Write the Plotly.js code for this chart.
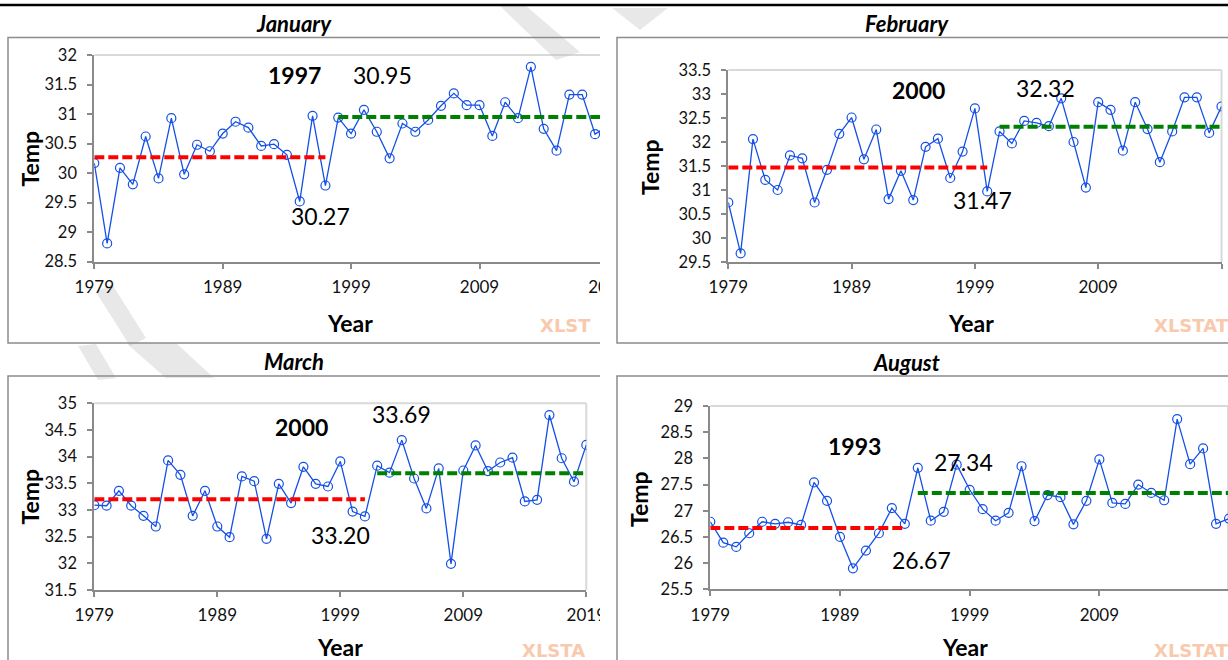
<!DOCTYPE html>
<html><head><meta charset="utf-8">
<script src="https://cdn.plot.ly/plotly-3.0.1.min.js"></script>
<style>html,body{margin:0;padding:0;background:#fff;} #chart{width:1228px;height:660px;}</style>
</head><body><div id="chart"></div>
<script>
// ---------------- data ----------------
const years = [1979,1980,1981,1982,1983,1984,1985,1986,1987,1988,1989,1990,1991,1992,1993,1994,1995,1996,1997,1998,1999,2000,2001,2002,2003,2004,2005,2006,2007,2008,2009,2010,2011,2012,2013,2014,2015,2016,2017,2018,2019];
const janTemp = [30.17,28.81,30.09,29.81,30.62,29.91,30.93,29.98,30.48,30.37,30.67,30.87,30.77,30.46,30.49,30.31,29.52,30.97,29.79,30.94,30.67,31.07,30.70,30.25,30.84,30.70,30.90,31.14,31.35,31.15,31.15,30.63,31.20,30.93,31.80,30.75,30.38,31.33,31.33,30.66,30.80];
const febTemp = [30.74,29.68,32.06,31.21,31.00,31.72,31.66,30.74,31.42,32.17,32.51,31.64,32.26,30.81,31.40,30.79,31.90,32.07,31.25,31.80,32.70,30.97,32.22,31.97,32.44,32.40,32.33,32.91,32.00,31.05,32.83,32.67,31.82,32.83,32.27,31.58,32.22,32.93,32.93,32.19,32.74];
const marTemp = [33.09,33.08,33.36,33.08,32.89,32.69,33.93,33.66,32.89,33.36,32.69,32.49,33.63,33.54,32.46,33.49,33.13,33.81,33.49,33.44,33.91,32.97,32.88,33.83,33.70,34.31,33.59,33.03,33.78,31.99,33.74,34.21,33.73,33.89,33.98,33.16,33.19,34.78,33.97,33.53,34.22];
const augTemp = [26.79,26.39,26.31,26.57,26.79,26.75,26.78,26.73,27.54,27.19,26.50,25.90,26.24,26.57,27.05,26.75,27.82,26.81,26.98,27.88,27.40,27.03,26.81,26.96,27.85,26.80,27.30,27.26,26.74,27.19,27.98,27.15,27.13,27.50,27.34,27.20,28.75,27.89,28.19,26.75,26.85];

const panelTitles = ['January','February','March','August'];
const changeYearLabels = ['1997','2000','2000','1993'];
const meanBefore = [30.27, 31.47, 33.20, 26.67];
const meanAfter = [30.95, 32.32, 33.69, 27.34];
const meanBeforeLabels = ['30.27','31.47','33.20','26.67'];
const meanAfterLabels = ['30.95','32.32','33.69','27.34'];
const beforeYears = [[1979,1997],[1979,2000],[1979,2001],[1979,1994]];
const afterYears = [[1998,2019],[2001,2019],[2002,2019],[1995,2019]];
const yRanges = [[28.5,32],[29.5,33.5],[31.5,35],[25.5,29]];
const xTickVals = [1979,1989,1999,2009,2019];
const xTickText = ['1979','1989','1999','2009','2019'];
const xAxisTitle = 'Year';
const yAxisTitle = 'Temp';
const watermarkTexts = ['XLST','XLSTAT','XLSTA','XLSTAT'];
const temps = [janTemp, febTemp, marTemp, augTemp];

// ---------------- layout geometry (pixels) ----------------
const W = 1228, H = 660;
const geo = [
  {x0:94.3, x1:607.9, xmax:2019, yTop:55, yBot:261.7,
   title:[293.8,23], cy:[294,75.5], after:[382,75.5], before:[320,216], xt:[350,323], yt:[29.5,159], xl:[538,325]},
  {x0:728.3, x1:1221.5, xmax:2019, yTop:70, yBot:262,
   title:[906.5,23], cy:[918,89.5], after:[1045,88], before:[982,200], xt:[971,323], yt:[650,167], xl:[1152,325]},
  {x0:94.3, x1:586.3, xmax:2019, yTop:403.3, yBot:590,
   title:[293.8,361.7], cy:[301,426.5], after:[401,414], before:[340.5,535], xt:[340,646.7], yt:[29.5,497], xl:[520,650]},
  {x0:710.3, x1:1228, xmax:2018.92, yTop:406, yBot:589.3,
   title:[906.5,362.7], cy:[854,445.5], after:[963,461.5], before:[921,560], xt:[965,646.7], yt:[639,499], xl:[1152,650]}
];
const px = v => v / W;
const py = v => 1 - v / H;

const FONT = 'Lato, Carlito, Calibri, "Open Sans", sans-serif';
const axisGray = '#8a8a8a';
const blue = '#1450e6';

const traces = [];
const layout = {
  width: W, height: H,
  margin: {l:0, r:0, t:0, b:0},
  paper_bgcolor: '#fff', plot_bgcolor: 'rgba(0,0,0,0)',
  showlegend: false,
  shapes: [], annotations: []
};

geo.forEach((g, i) => {
  const s = i === 0 ? '' : String(i + 1);
  const so = String(i + 5);
  const xd = [px(g.x0), px(g.x1)];
  const yd = [py(g.yBot), py(g.yTop)];
  const common = {showgrid:false, zeroline:false, fixedrange:true};
  layout['xaxis' + s] = Object.assign({}, common, {
    domain: xd, range: [1979, g.xmax], anchor: 'y' + s,
    tickmode: 'array', tickvals: xTickVals, ticktext: xTickText,
    ticks: 'outside', ticklen: 5, tickwidth: 2, tickcolor: axisGray,
    showline: true, linecolor: axisGray, linewidth: 2,
    tickfont: {family: FONT, size: 17, color: '#111'}, ticklabelstandoff: 4
  });
  layout['yaxis' + s] = Object.assign({}, common, {
    domain: yd, range: yRanges[i], anchor: 'x' + s,
    tickmode: 'linear', tick0: yRanges[i][0], dtick: 0.5,
    ticks: 'outside', ticklen: 5, tickwidth: 2, tickcolor: axisGray,
    showline: true, linecolor: axisGray, linewidth: 2,
    tickfont: {family: FONT, size: 16.5, color: '#111'}, ticklabelstandoff: 7
  });
  // overlay axes that give the inner half of the crossing tick marks
  layout['xaxis' + so] = Object.assign({}, common, {
    overlaying: 'x' + s, anchor: 'y' + s, range: [1979, g.xmax],
    tickmode: 'array', tickvals: xTickVals, ticks: 'inside', ticklen: 5, tickwidth: 2,
    tickcolor: axisGray, showticklabels: false, showline: false
  });
  layout['yaxis' + so] = Object.assign({}, common, {
    overlaying: 'y' + s, anchor: 'x' + s, range: yRanges[i],
    tickmode: 'linear', tick0: yRanges[i][0], dtick: 0.5, ticks: 'inside', ticklen: 5, tickwidth: 2,
    tickcolor: axisGray, showticklabels: false, showline: false
  });

  traces.push({
    x: years, y: temps[i], type: 'scatter', mode: 'lines+markers',
    xaxis: 'x' + s, yaxis: 'y' + s, hoverinfo: 'skip',
    line: {color: blue, width: 1.3},
    marker: {symbol: 'circle-open', size: 9, color: blue, line: {width: 1.2}}
  });
  traces.push({
    x: beforeYears[i], y: [meanBefore[i], meanBefore[i]], type: 'scatter', mode: 'lines',
    xaxis: 'x' + s, yaxis: 'y' + s, hoverinfo: 'skip',
    line: {color: '#ff0000', width: 4, dash: '10px,4px'}
  });
  traces.push({
    x: afterYears[i], y: [meanAfter[i], meanAfter[i]], type: 'scatter', mode: 'lines',
    xaxis: 'x' + s, yaxis: 'y' + s, hoverinfo: 'skip',
    line: {color: '#008000', width: 4, dash: '10px,4px'}
  });

  // plot-area border (top and right)
  layout.shapes.push({type:'line', xref:'x' + s + ' domain', yref:'y' + s + ' domain', x0:0, x1:1, y0:1, y1:1, layer:'below', line:{color:'#d9d9d9', width:2}});
  layout.shapes.push({type:'line', xref:'x' + s + ' domain', yref:'y' + s + ' domain', x0:1, x1:1, y0:0, y1:1, layer:'below', line:{color:'#d9d9d9', width:2}});

  const ann = (pos, text, font, extra) => Object.assign({
    xref:'paper', yref:'paper', x: px(pos[0]), y: py(pos[1]),
    xanchor:'center', yanchor:'middle', showarrow:false, text: text, font: font
  }, extra || {});
  layout.annotations.push(ann(g.title, '<b><i>' + panelTitles[i] + '</i></b>', {family: FONT, size: 22, color: '#000'}));
  layout.annotations.push(ann(g.cy, '<b>' + changeYearLabels[i] + '</b>', {family: FONT, size: 23, color: '#000'}));
  layout.annotations.push(ann(g.after, meanAfterLabels[i], {family: FONT, size: 23, color: '#000'}));
  layout.annotations.push(ann(g.before, meanBeforeLabels[i], {family: FONT, size: 23, color: '#000'}));
  layout.annotations.push(ann(g.xt, '<b>' + xAxisTitle + '</b>', {family: FONT, size: 23, color: '#000'}));
  layout.annotations.push(ann(g.yt, '<b>' + yAxisTitle + '</b>', {family: FONT, size: 23, color: '#000'}, {textangle: -90}));
  layout.annotations.push(ann(g.xl, '<b>' + watermarkTexts[i] + '</b>', {family: '"DejaVu Sans", sans-serif', size: 18, color: '#f9c9ad'}, {xanchor: 'left'}));
});

// faint diagonal page watermark strokes
const wmFill = 'rgba(190,190,190,0.35)';
const poly = pts => 'M ' + pts.map(p => px(p[0]) + ',' + py(p[1])).join(' L ') + ' Z';
[
  [[96,292],[112,284],[146,338],[130,346]],
  [[78,346],[96,344],[116,378],[98,380]],
  [[126,343],[176,343],[214,378],[166,378]],
  [[500,6],[526,6],[580,52],[556,60]],
  [[612,8],[668,8],[640,30]]
].forEach(pts => layout.shapes.push({type:'path', xref:'paper', yref:'paper', path: poly(pts), layer:'below', line:{width:0}, fillcolor: wmFill}));

// document rule at top
layout.shapes.push({type:'line', xref:'paper', yref:'paper', x0:0, x1:1, y0:py(5), y1:py(5), layer:'above', line:{color:'#000', width:2.5}});
// left-column chart frames
const frameGray = '#8c8c8c';
layout.shapes.push({type:'rect', xref:'paper', yref:'paper', x0:px(8), x1:px(622), y0:py(343), y1:py(37.5), layer:'above', line:{color:frameGray, width:1.5}, fillcolor:'rgba(0,0,0,0)'});
layout.shapes.push({type:'rect', xref:'paper', yref:'paper', x0:px(8), x1:px(622), y0:py(720), y1:py(376), layer:'above', line:{color:frameGray, width:1.5}, fillcolor:'rgba(0,0,0,0)'});
// right column covers the left column's overflow
layout.shapes.push({type:'rect', xref:'paper', yref:'paper', x0:px(600), x1:px(632), y0:py(660), y1:py(30), layer:'above', line:{width:0}, fillcolor:'#ffffff'});
layout.shapes.push({type:'rect', xref:'paper', yref:'paper', x0:px(617), x1:px(1260), y0:py(343), y1:py(37.5), layer:'above', line:{color:frameGray, width:1.5}, fillcolor:'rgba(0,0,0,0)'});
layout.shapes.push({type:'rect', xref:'paper', yref:'paper', x0:px(617), x1:px(1260), y0:py(720), y1:py(376), layer:'above', line:{color:frameGray, width:1.5}, fillcolor:'rgba(0,0,0,0)'});

Plotly.newPlot('chart', traces, layout, {staticPlot: true, displayModeBar: false});
</script>
</body></html>
